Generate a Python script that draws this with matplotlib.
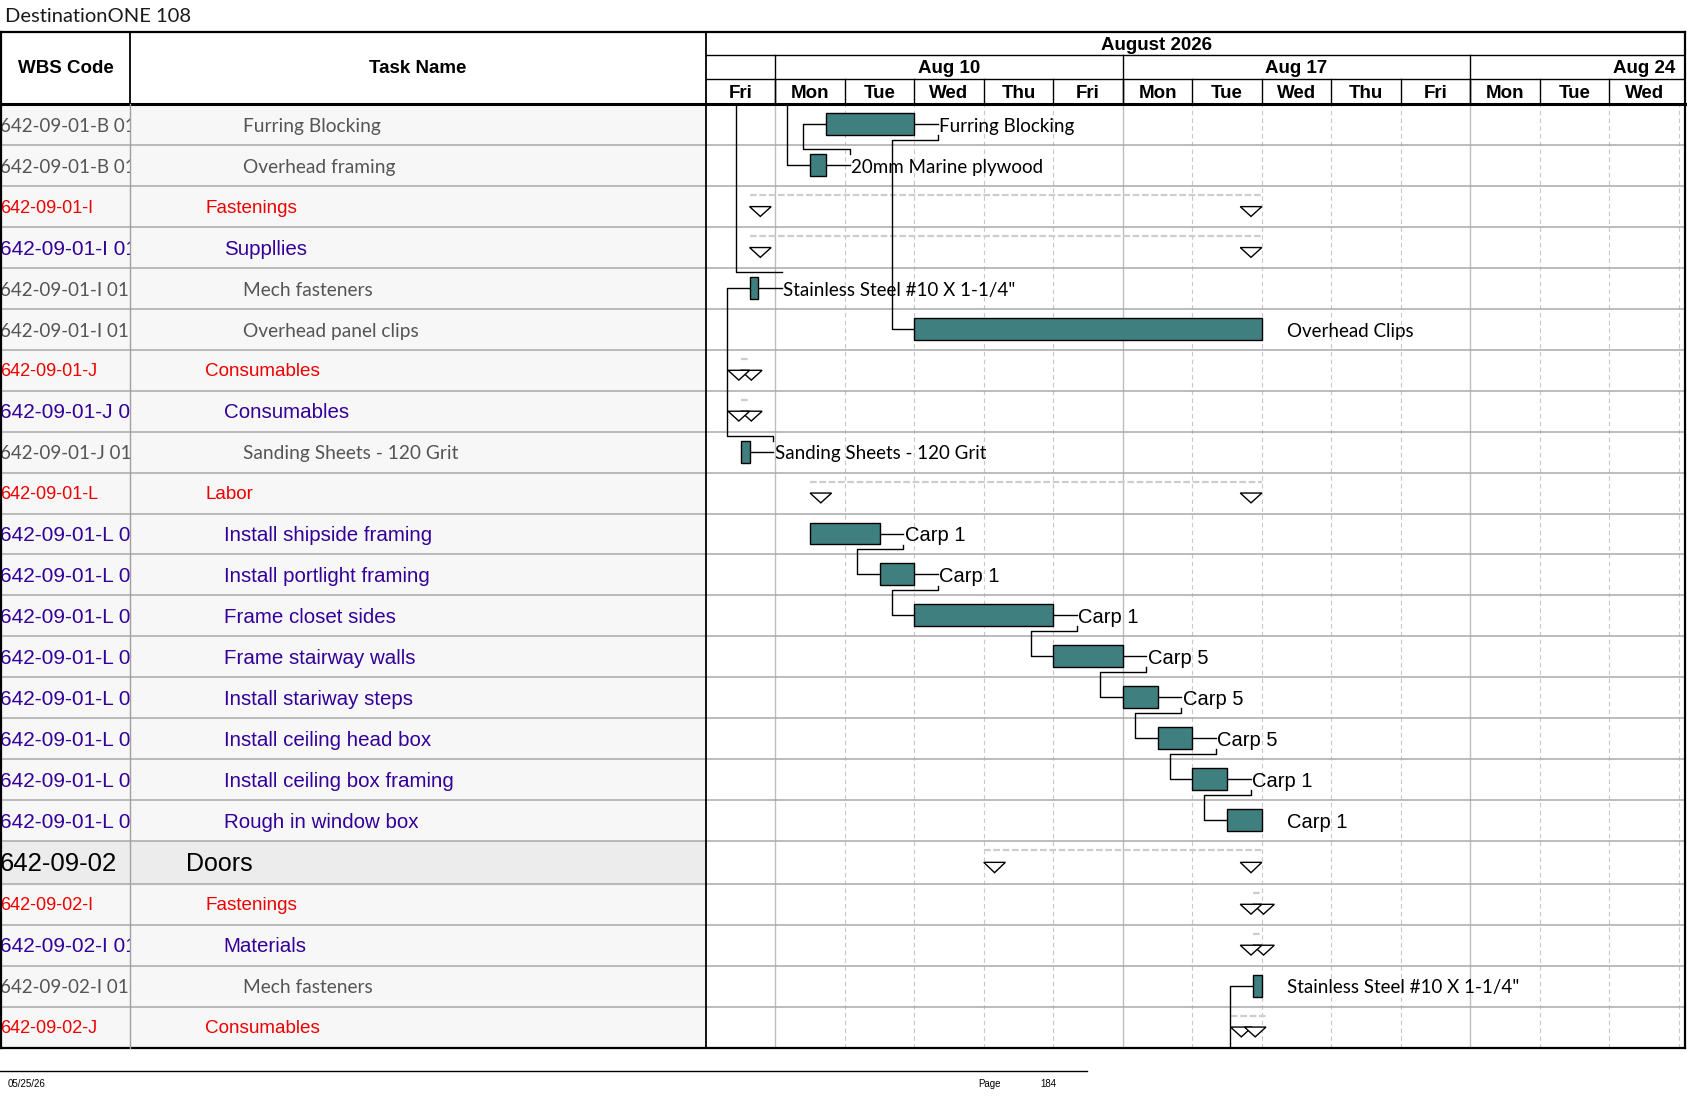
import matplotlib
matplotlib.use("Agg")
import matplotlib.pyplot as plt
from matplotlib.patches import Rectangle, Polygon
import numpy as np

# ---------------- data ----------------
wbs_codes = ["642-09-01-B 01-01", "642-09-01-B 01-02", "642-09-01-I", "642-09-01-I 01",
             "642-09-01-I 01-01", "642-09-01-I 01-02", "642-09-01-J", "642-09-01-J 01",
             "642-09-01-J 01-01", "642-09-01-L", "642-09-01-L 01", "642-09-01-L 02",
             "642-09-01-L 03", "642-09-01-L 04", "642-09-01-L 05", "642-09-01-L 06",
             "642-09-01-L 07", "642-09-01-L 08", "642-09-02", "642-09-02-I",
             "642-09-02-I 01", "642-09-02-I 01-01", "642-09-02-J"]
task_names = ["Furring Blocking", "Overhead framing", "Fastenings", "Suppllies",
              "Mech fasteners", "Overhead panel clips", "Consumables", "Consumables",
              "Sanding Sheets - 120 Grit", "Labor", "Install shipside framing",
              "Install portlight framing", "Frame closet sides", "Frame stairway walls",
              "Install stariway steps", "Install ceiling head box", "Install ceiling box framing",
              "Rough in window box", "Doors", "Fastenings", "Materials", "Mech fasteners",
              "Consumables"]
# row kind: item (grey), sub (purple), grp (red), top (black, big)
row_kind = ["item", "item", "grp", "sub", "item", "item", "grp", "sub", "item", "grp",
            "sub", "sub", "sub", "sub", "sub", "sub", "sub", "sub", "top", "grp", "sub",
            "item", "grp"]

# task bars, in working days from start of Fri Aug 7 2026
bar_rows = [0, 1, 4, 5, 8, 10, 11, 12, 13, 14, 15, 16, 17, 21]
bar_start = [1.73, 1.50, 0.63, 3.00, 0.50, 1.50, 2.50, 3.00, 5.00, 6.00, 6.50, 7.00, 7.50, 7.87]
bar_end = [3.00, 1.73, 0.75, 8.00, 0.63, 2.50, 3.00, 5.00, 6.00, 6.50, 7.00, 7.50, 8.00, 8.00]
bar_labels = ["Furring Blocking", "20mm Marine plywood", "Stainless Steel #10 X 1-1/4\"",
              "Overhead Clips", "Sanding Sheets - 120 Grit", "Carp 1", "Carp 1", "Carp 1",
              "Carp 5", "Carp 5", "Carp 5", "Carp 1", "Carp 1", "Stainless Steel #10 X 1-1/4\""]
bar_connector = [True, True, True, False, True, True, True, True, True, True, True, True,
                 False, False]

# summary rows
sum_rows = [2, 3, 6, 7, 9, 18, 19, 20, 22]
sum_start = [0.63, 0.63, 0.50, 0.50, 1.50, 4.00, 7.87, 7.87, 7.55]
sum_end = [8.00, 8.00, 0.63, 0.63, 8.00, 8.00, 8.00, 8.00, 8.06]

# finish-to-start links (predecessor row -> successor row)
link_pred = [1, 0, 8, 10, 11, 12, 13, 14, 15, 16]
link_succ = [0, 5, 4, 11, 12, 13, 14, 15, 16, 17]

day_names = ["Fri", "Mon", "Tue", "Wed", "Thu", "Fri", "Mon", "Tue", "Wed", "Thu",
             "Fri", "Mon", "Tue", "Wed"]
week_labels = ["Aug 10", "Aug 17", "Aug 24"]
week_first_day = [1, 6, 11]
month_label = "August 2026"

# ---------------- layout ----------------
W, H = 1568.0, 1020.0
ROW = 38.06
heights = np.ones(len(task_names))
heights[18] = 40 / ROW
tops = np.concatenate([[0], np.cumsum(heights)[:-1]])
total = heights.sum()
ndays = 910 / 64.6

ARIAL = "Liberation Sans"
CAL = "Lato"
# (colour, family, size of task name, size of wbs code, indent)
kind_style = {
    "item": dict(color="#555555", family=CAL, size=13.8, wsize=13.5, x=226),
    "sub": dict(color="#330099", family=ARIAL, size=14.8, wsize=15, x=208),
    "grp": dict(color="#ee0000", family=ARIAL, size=13.6, wsize=13, x=191),
    "top": dict(color="#000000", family=ARIAL, size=18, wsize=18.5, x=173),
}
BAR = "#3f7f7f"


def rect(x0, y0, x1, y1):
    return [x0 / W, 1 - y1 / H, (x1 - x0) / W, (y1 - y0) / H]


def mid(r):
    return tops[r] + 0.49 * heights[r]


fig = plt.figure(figsize=(16.87, 10.97), dpi=100)

gx = fig.add_axes(rect(656, 97, 1566, 974))
gx.set_xlim(0, ndays)
gx.set_ylim(total, 0)
gx.axis("off")

wx = fig.add_axes(rect(0, 97, 121, 974), sharey=gx)
wx.set_xlim(0, 121)
tx = fig.add_axes(rect(121, 97, 656, 974), sharey=gx)
tx.set_xlim(121, 656)
for a in (wx, tx):
    a.set_facecolor("#f7f7f7")
    for s in a.spines.values():
        s.set_visible(False)
    a.set_xticks([])
    a.set_yticks([])
    a.axhspan(tops[18], tops[18] + heights[18], color="#ececec", zorder=0)

# gantt grid
for k in range(1, 15):
    if k in week_first_day:
        gx.axvline(k, color="#bdbdbd", lw=1.0, zorder=1)
    else:
        gx.axvline(k, color="#c8c8c8", lw=0.8, ls=(0, (4, 3)), zorder=1)
for y in list(tops[1:]):
    for a in (gx, wx, tx):
        a.axhline(y, color="#a9a9a9", lw=1.1, zorder=1)

# table text
for i, (code, name, kind) in enumerate(zip(wbs_codes, task_names, row_kind)):
    st = kind_style[kind]
    yc = tops[i] + 0.54 * heights[i]
    wx.text(0.0, yc, code, color=st["color"], family=st["family"], fontsize=st["wsize"],
            va="center", ha="left", clip_on=True)
    tx.text(st["x"], yc, name, color=st["color"], family=st["family"], fontsize=st["size"],
            va="center", ha="left", clip_on=True)

# summary rows
tri_w = 0.31
for r, s, e in zip(sum_rows, sum_start, sum_end):
    t = tops[r]
    h = heights[r]
    gx.plot([s, e], [t + 0.22 * h, t + 0.22 * h], color="#cdcdcd", lw=1.6,
            ls=(0, (3, 1.2)), zorder=2)
    y_top = t + 0.5 * h
    y_bot = t + 0.74 * h
    for x0 in (s, e - tri_w):
        gx.add_patch(Polygon([(x0, y_top), (x0 + tri_w, y_top), (x0 + tri_w / 2, y_bot)],
                             closed=True, facecolor="white", edgecolor="black", lw=1.0,
                             zorder=4))

# bars
conn = 0.34
bar_of = {}
for r, s, e, lab, c in zip(bar_rows, bar_start, bar_end, bar_labels, bar_connector):
    bar_of[r] = (s, e)
    t = tops[r]
    h = heights[r]
    gx.add_patch(Rectangle((s, t + 0.22 * h), e - s, 0.535 * h, facecolor=BAR,
                           edgecolor="black", lw=1.0, zorder=5))
    if c:
        gx.plot([e, e + conn], [mid(r), mid(r)], color="black", lw=1.0, zorder=3)
    fam = ARIAL if lab.startswith("Carp") else CAL
    fs = 14.5 if fam == ARIAL else 13.5
    gx.text(e + conn + 0.02, mid(r) + 0.05, lab, family=fam, fontsize=fs, va="center",
            ha="left", color="black", zorder=6)

# links
off = 0.325
for p, q in zip(link_pred, link_succ):
    ps, pe = bar_of[p]
    qs, qe = bar_of[q]
    lx = pe + conn
    xv = qs - off
    if q > p:
        y0 = tops[p] + 0.76 * heights[p]
        yl = tops[p] + 0.87 * heights[p]
    else:
        y0 = tops[p] + 0.22 * heights[p]
        yl = tops[p] + 0.10 * heights[p]
    gx.plot([lx, lx, xv, xv, qs], [y0, yl, yl, mid(q), mid(q)], color="black", lw=1.0,
            zorder=3)

# links to / from other pages
gx.plot([bar_of[1][0] - off, bar_of[1][0] - off, bar_of[1][0]], [0, mid(1), mid(1)],
        color="black", lw=1.0, zorder=3)
gx.plot([bar_of[4][1] + conn, 0.43, 0.43], [tops[4] + 0.1, tops[4] + 0.1, 0],
        color="black", lw=1.0, zorder=3)
gx.plot([bar_of[21][0] - off, bar_of[21][0] - off, bar_of[21][0]], [total, mid(21), mid(21)],
        color="black", lw=1.0, zorder=3)

# timescale header
hx = fig.add_axes(rect(656, 30, 1566, 97), sharex=gx)
hx.set_ylim(97, 30)
hx.axis("off")
hx.text(6.49, 42, month_label, ha="center", va="center", family=ARIAL,
        fontweight="bold", fontsize=13.5)
for lab, k in zip(week_labels, week_first_day):
    hx.text(k + 2.5, 63.5, lab, ha="center", va="center", family=ARIAL, fontweight="bold",
            fontsize=13.5, clip_on=True)
    hx.plot([k, k], [51, 97], color="black", lw=1.0)
for k, dn in enumerate(day_names):
    hx.text(k + 0.5, 87, dn, ha="center", va="center", family=ARIAL, fontweight="bold",
            fontsize=13.5, clip_on=True)
    if k > 0:
        hx.plot([k, k], [73, 97], color="black", lw=1.0)
hx.plot([0, ndays], [51, 51], color="black", lw=1.0)
hx.plot([0, ndays], [73, 73], color="black", lw=1.0)

# overlay: frame, table header, title, footer
ov = fig.add_axes([0, 0, 1, 1])
ov.set_xlim(0, W)
ov.set_ylim(H, 0)
ov.axis("off")
ov.patch.set_alpha(0)
ov.plot([0, 1566], [30, 30], color="black", lw=1.6)
ov.plot([0, 1566], [97, 97], color="black", lw=2.2)
ov.plot([0, 1566], [974, 974], color="black", lw=1.6)
ov.plot([0.6, 0.6], [30, 974], color="black", lw=1.6)
ov.plot([1566, 1566], [30, 974], color="black", lw=1.6)
ov.plot([656, 656], [30, 974], color="black", lw=1.3)
ov.plot([121, 121], [30, 97], color="black", lw=1.3)
ov.plot([121, 121], [97, 974], color="#a0a0a0", lw=1.0)
ov.text(61, 63.5, "WBS Code", ha="center", va="center", family=ARIAL, fontweight="bold",
        fontsize=13.5)
ov.text(388, 63.5, "Task Name", ha="center", va="center", family=ARIAL, fontweight="bold",
        fontsize=13.5)
ov.text(5, 15, "DestinationONE 108", ha="left", va="center", family=CAL,
        fontsize=14.5, color="#1a1a1a")

ov.plot([0, 1010], [996, 996], color="black", lw=1.0)
small = ["Liberation Sans Narrow", "Liberation Sans"]
ov.text(7, 1008, "05/25/26", ha="left", va="center", family=small, fontsize=7)
ov.text(909, 1008, "Page", ha="left", va="center", family=small, fontsize=7)
ov.text(967, 1008, "184", ha="left", va="center", family=small, fontsize=7)

fig.savefig("out.png", dpi=100)
plt.close("all")
